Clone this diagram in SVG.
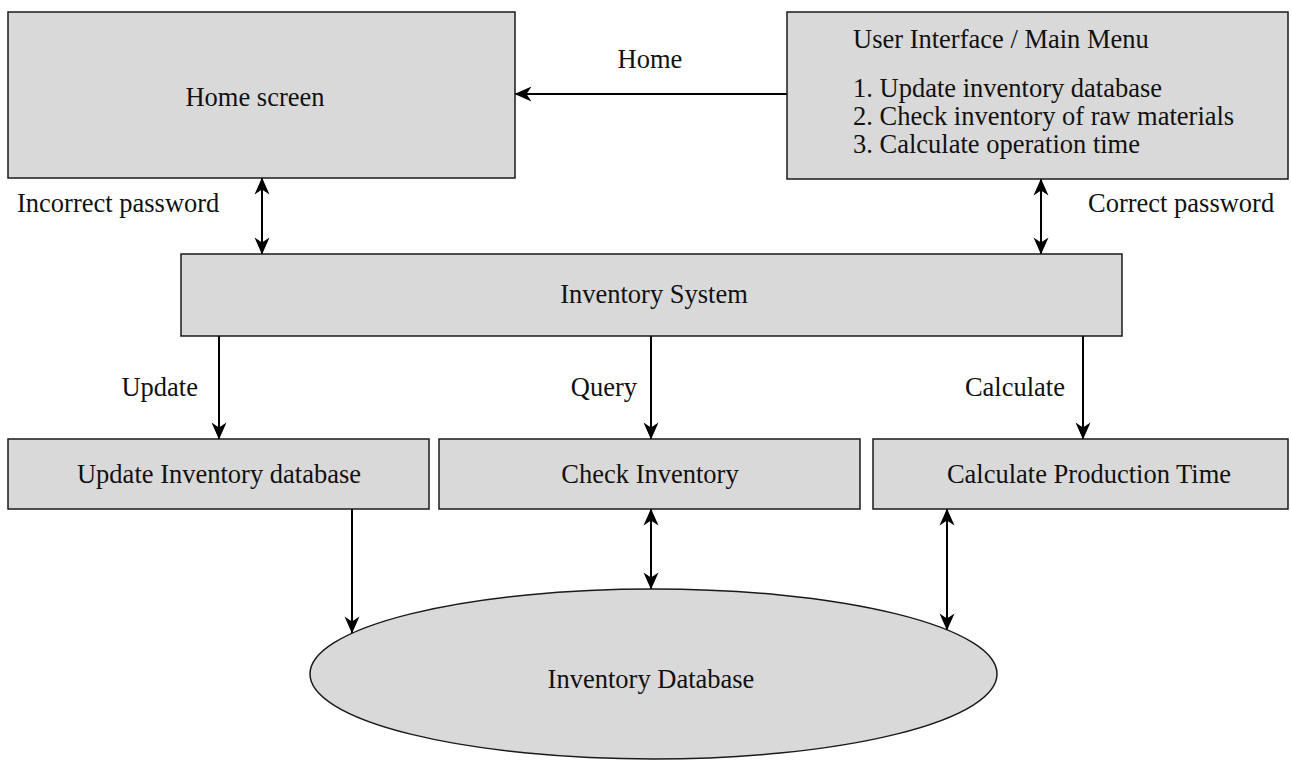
<svg xmlns="http://www.w3.org/2000/svg" width="1291" height="760" viewBox="0 0 1291 760">
<style>
.box{fill:#d9d9d9;stroke:#1a1a1a;stroke-width:1.5}
.t{font-family:'Liberation Serif','Times New Roman',Tinos,'DejaVu Serif',serif;font-size:26.5px;fill:#111}
.c{text-anchor:middle}
.e{text-anchor:end}
.ln{stroke:#000;stroke-width:2;fill:none}
.one{marker-end:url(#ah)}
.two{marker-start:url(#ah);marker-end:url(#ah)}
</style>
<defs>
<marker id="ah" markerUnits="userSpaceOnUse" markerWidth="18" markerHeight="16" viewBox="0 0 17 16" refX="16.5" refY="8" orient="auto-start-reverse">
<path d="M0,0.5 L17,8 L0,15.5 L5,8 Z" fill="#000"/>
</marker>
</defs>
<rect width="1291" height="760" fill="#fff"/>
<g id="connectors" font-family="Liberation Serif, serif">
<line class="ln one" x1="787" y1="94" x2="515" y2="94"/>
<line class="ln two" x1="262" y1="178" x2="262" y2="254"/>
<line class="ln two" x1="1041" y1="179" x2="1041" y2="254"/>
<line class="ln one" x1="219" y1="336" x2="219" y2="439"/>
<line class="ln one" x1="651" y1="336" x2="651" y2="439"/>
<line class="ln one" x1="1083" y1="336" x2="1083" y2="439"/>
<line class="ln one" x1="352" y1="509" x2="352" y2="633"/>
<line class="ln two" x1="651" y1="509" x2="651" y2="589"/>
<line class="ln two" x1="947" y1="509" x2="947" y2="630"/>
<text class="t c" x="650" y="68">Home</text>
<text class="t" x="17" y="212">Incorrect password</text>
<text class="t" x="1088" y="212">Correct password</text>
<text class="t e" x="198" y="396">Update</text>
<text class="t e" x="637" y="396">Query</text>
<text class="t e" x="1065" y="396">Calculate</text>
</g>
<g id="home-screen">
<rect class="box" x="8" y="12" width="507" height="166"/>
<text class="t c" x="255" y="106">Home screen</text>
</g>
<g id="main-menu">
<rect class="box" x="787" y="12" width="501" height="167"/>
<text class="t" x="853" y="48">User Interface / Main Menu</text>
<text class="t" x="853" y="97">1. Update inventory database</text>
<text class="t" x="853" y="125">2. Check inventory of raw materials</text>
<text class="t" x="853" y="153">3. Calculate operation time</text>
</g>
<g id="inventory-system">
<rect class="box" x="181" y="254" width="941" height="82"/>
<text class="t c" x="654" y="303">Inventory System</text>
</g>
<g id="update-db">
<rect class="box" x="8" y="439" width="421" height="70"/>
<text class="t c" x="219" y="483">Update Inventory database</text>
</g>
<g id="check-inventory">
<rect class="box" x="439" y="439" width="421" height="70"/>
<text class="t c" x="650" y="483">Check Inventory</text>
</g>
<g id="calc-time">
<rect class="box" x="873" y="439" width="415" height="70"/>
<text class="t c" x="1089" y="483">Calculate Production Time</text>
</g>
<g id="inventory-database">
<ellipse class="box" cx="653.5" cy="674" rx="343.5" ry="85"/>
<text class="t c" x="651" y="688">Inventory Database</text>
</g>
</svg>
